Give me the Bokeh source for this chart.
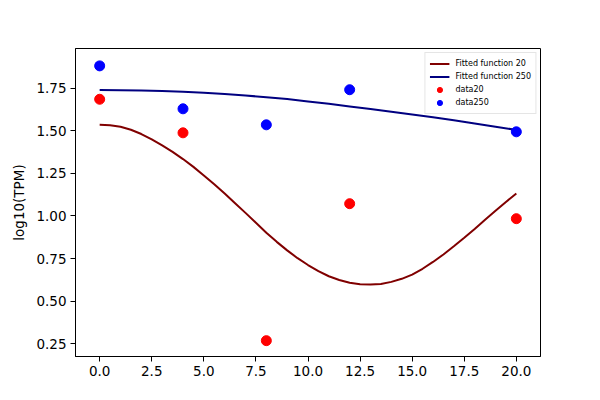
from bokeh.plotting import figure
from bokeh.models import Range1d, FixedTicker, PrintfTickFormatter, Legend, LegendItem
from bokeh.embed import file_html
from bokeh.resources import INLINE

# data points
t_data = [0, 4, 8, 12, 20]
data20 = [1.685, 1.488, 0.268, 1.072, 0.984]
data250 = [1.881, 1.629, 1.535, 1.741, 1.494]

# fitted curves at half-unit time steps
t_fit20 = [i * 0.5 for i in range(41)]
fit20 = [1.535, 1.533, 1.524, 1.506, 1.481, 1.450, 1.414, 1.376, 1.334, 1.288,
         1.238, 1.186, 1.132, 1.075, 1.018, 0.960, 0.902, 0.848, 0.798, 0.752,
         0.712, 0.676, 0.646, 0.624, 0.608, 0.599, 0.597, 0.601, 0.613, 0.631,
         0.656, 0.690, 0.730, 0.774, 0.822, 0.872, 0.924, 0.978, 1.030, 1.082, 1.132]
t_fit250 = list(range(0, 21))
fit250 = [1.739, 1.738, 1.736, 1.733, 1.729, 1.723, 1.716, 1.707, 1.697, 1.686,
          1.672, 1.658, 1.643, 1.628, 1.612, 1.596, 1.580, 1.562, 1.543, 1.524, 1.505]

x_ticks = [0, 2.5, 5, 7.5, 10, 12.5, 15, 17.5, 20]
y_ticks = [0.25, 0.5, 0.75, 1.0, 1.25, 1.5, 1.75]

p = figure(width=600, height=400, output_backend="svg", toolbar_location=None,
           x_range=Range1d(-1.16, 21.16), y_range=Range1d(0.175, 1.983),
           min_border_left=75, min_border_right=60, min_border_top=48, min_border_bottom=44)
p.frame_width = 465
p.frame_height = 308
p.grid.visible = False
p.outline_line_color = "black"
p.outline_line_width = 1
p.background_fill_color = "white"
p.border_fill_color = "white"

for ax in (p.xaxis[0], p.yaxis[0]):
    ax.major_tick_in = 0
    ax.major_tick_out = 5
    ax.minor_tick_line_color = None
    ax.major_label_text_font = "DejaVu Sans"
    ax.major_label_text_font_size = "13.5px"
    ax.major_label_text_color = "black"
    ax.axis_line_color = "black"
    ax.major_tick_line_color = "black"
    ax.major_label_standoff = 4

p.xaxis[0].ticker = FixedTicker(ticks=x_ticks)
p.xaxis[0].formatter = PrintfTickFormatter(format="%.1f")
p.yaxis[0].ticker = FixedTicker(ticks=y_ticks)
p.yaxis[0].formatter = PrintfTickFormatter(format="%.2f")
p.yaxis[0].axis_label = "log10(TPM)"
p.yaxis[0].axis_label_text_font = "DejaVu Sans"
p.yaxis[0].axis_label_text_font_size = "13.5px"
p.yaxis[0].axis_label_text_font_style = "normal"
p.yaxis[0].axis_label_text_color = "black"
p.yaxis[0].axis_label_standoff = 6

l20 = p.line(t_fit20, fit20, line_color="#800000", line_width=2)
l250 = p.line(t_fit250, fit250, line_color="#000080", line_width=2)
s20 = p.scatter(t_data, data20, size=10, fill_color="red", line_color="red")
s250 = p.scatter(t_data, data250, size=10, fill_color="blue", line_color="blue")

legend = Legend(items=[
    LegendItem(label="Fitted function 20", renderers=[l20]),
    LegendItem(label="Fitted function 250", renderers=[l250]),
    LegendItem(label="data20", renderers=[s20]),
    LegendItem(label="data250", renderers=[s250]),
], location="top_right")
legend.margin = 4
legend.padding = 4
legend.spacing = 0
legend.label_text_font = "DejaVu Sans"
legend.label_text_font_size = "8px"
legend.label_text_color = "black"
legend.label_height = 13
legend.glyph_height = 13
legend.glyph_width = 20
legend.label_standoff = 6
legend.border_line_color = "#cccccc"
legend.border_line_width = 1
legend.background_fill_alpha = 0.8
p.add_layout(legend)

open("out.html", "w").write(file_html(p, INLINE))
